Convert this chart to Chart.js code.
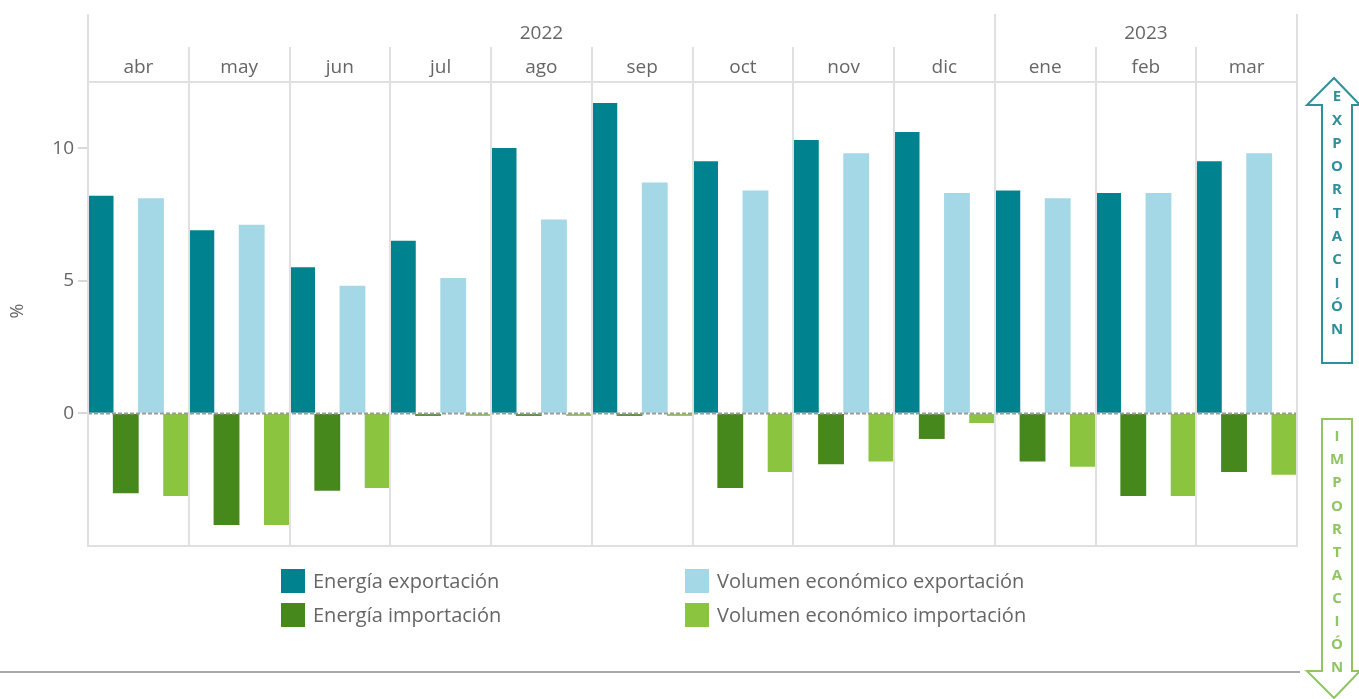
<!DOCTYPE html>
<html lang="es">
<head>
<meta charset="utf-8">
<title>Energía y volumen económico: exportación e importación</title>
<script src="https://cdn.jsdelivr.net/npm/chart.js@4"></script>
<style>
    html, body {
        margin: 0;
        padding: 0;
        background: #ffffff;
        width: 1359px;
        height: 699px;
        overflow: hidden;
        font-family: "Open Sans", sans-serif;
    }
    #wrap {
        position: relative;
        width: 1359px;
        height: 699px;
    }
    #chart {
        position: absolute;
        left: 0;
        top: 0;
    }
    .legend-item {
        position: absolute;
        display: flex;
        align-items: center;
        font-size: 20px;
        color: #666;
        white-space: nowrap;
    }
    .legend-item .swatch {
        width: 24px;
        height: 24px;
        margin-right: 8px;
    }
</style>
</head>
<body>
<div id="wrap">
    <canvas id="chart" width="1359" height="699"></canvas>
    <div id="legend"></div>
</div>
<script>
// Months (apr 2022 - mar 2023) and the year each one belongs to
const months = ['abr', 'may', 'jun', 'jul', 'ago', 'sep', 'oct', 'nov', 'dic', 'ene', 'feb', 'mar'];
const monthYears = ['2022', '2022', '2022', '2022', '2022', '2022', '2022', '2022', '2022', '2023', '2023', '2023'];

// Year-on-year change, %
const energiaExportacion = [8.2, 6.9, 5.5, 6.5, 10.0, 11.7, 9.5, 10.3, 10.6, 8.4, 8.3, 9.5];
const energiaImportacion = [-3.0, -4.2, -2.9, -0.08, -0.08, -0.08, -2.8, -1.9, -0.95, -1.8, -3.1, -2.2];
const volumenExportacion = [8.1, 7.1, 4.8, 5.1, 7.3, 8.7, 8.4, 9.8, 8.3, 8.1, 8.3, 9.8];
const volumenImportacion = [-3.1, -4.2, -2.8, -0.08, -0.08, -0.08, -2.2, -1.8, -0.35, -2.0, -3.1, -2.3];

const yTicks = [0, 5, 10];

const COLORS = {
    energiaExp: '#00838f',
    energiaImp: '#47881d',
    volumenExp: '#a5d8e6',
    volumenImp: '#8bc43f',
    grid: '#e0e0e0',
    text: '#666666',
    arrowExp: '#2f8f9a',
    arrowImp: '#8fc663'
};

const FONT = '"Open Sans", sans-serif';

// Header rows (years + months), frame lines, zero line, axis title and side arrows
const decorations = {
    id: 'decorations',
    afterDatasetsDraw(chart) {
        const ctx = chart.ctx;
        const area = chart.chartArea;
        const x = chart.scales.x;
        const y = chart.scales.y;
        const step = (area.right - area.left) / months.length;
        const yearTop = 14;
        const monthTop = 47;

        ctx.save();

        // dashed zero line over the bars
        const y0 = Math.round(y.getPixelForValue(0)) + 0.5;
        ctx.strokeStyle = '#9a9a9a';
        ctx.lineWidth = 2;
        ctx.setLineDash([4, 2]);
        ctx.beginPath();
        ctx.moveTo(area.left, y0);
        ctx.lineTo(area.right, y0);
        ctx.stroke();
        ctx.setLineDash([]);

        // month separators; year boundaries reach up into the year row
        ctx.strokeStyle = COLORS.grid;
        ctx.lineWidth = 2;
        for (let i = 0; i <= months.length; i++) {
            const px = Math.round(x.getPixelForValue(i) - step / 2);
            const yearEdge = i === 0 || i === months.length || monthYears[i] !== monthYears[i - 1];
            ctx.beginPath();
            ctx.moveTo(px, yearEdge ? yearTop : monthTop);
            ctx.lineTo(px, area.bottom);
            ctx.stroke();
        }

        // header bottom and chart bottom
        ctx.beginPath();
        ctx.moveTo(area.left, area.top);
        ctx.lineTo(area.right, area.top);
        ctx.moveTo(area.left - 1, area.bottom);
        ctx.lineTo(area.right + 1, area.bottom);
        ctx.stroke();

        // month labels
        ctx.fillStyle = COLORS.text;
        ctx.textAlign = 'center';
        ctx.textBaseline = 'middle';
        ctx.font = '19px ' + FONT;
        months.forEach((m, i) => {
            ctx.fillText(m, x.getPixelForValue(i), 68);
        });

        // year labels centred over their months
        const yearSpans = {};
        monthYears.forEach((yr, i) => {
            if (!yearSpans[yr]) yearSpans[yr] = [i, i];
            yearSpans[yr][1] = i;
        });
        Object.keys(yearSpans).forEach(yr => {
            const [a, b] = yearSpans[yr];
            const cx = (x.getPixelForValue(a) + x.getPixelForValue(b)) / 2;
            ctx.fillText(yr, cx, 34);
        });

        // y axis title
        ctx.save();
        ctx.translate(18, 311);
        ctx.rotate(-Math.PI / 2);
        ctx.font = '18px ' + FONT;
        ctx.fillText('%', 0, 0);
        ctx.restore();

        // separator under the chart
        ctx.strokeStyle = '#a8a8a8';
        ctx.lineWidth = 2;
        ctx.beginPath();
        ctx.moveTo(0, 672);
        ctx.lineTo(1300, 672);
        ctx.stroke();

        drawArrow(ctx, 'up', COLORS.arrowExp, 'EXPORTACIÓN', 78, 363, 97, 330);
        drawArrow(ctx, 'down', COLORS.arrowImp, 'IMPORTACIÓN', 419, 698, 437, 668);

        ctx.restore();
    }
};

// Outlined block arrow with the word written letter by letter inside the shaft
function drawArrow(ctx, dir, color, word, top, bottom, first, last) {
    const shaftL = 1322;
    const shaftR = 1352;
    const headL = 1307;
    const headR = 1360;
    const tipX = 1334;
    const headLen = 27;

    ctx.save();
    ctx.strokeStyle = color;
    ctx.lineWidth = 2;
    ctx.lineJoin = 'miter';
    ctx.beginPath();
    if (dir === 'up') {
        ctx.moveTo(tipX, top);
        ctx.lineTo(headR, top + headLen);
        ctx.lineTo(shaftR, top + headLen);
        ctx.lineTo(shaftR, bottom);
        ctx.lineTo(shaftL, bottom);
        ctx.lineTo(shaftL, top + headLen);
        ctx.lineTo(headL, top + headLen);
        ctx.closePath();
    } else {
        ctx.moveTo(shaftL, top);
        ctx.lineTo(shaftR, top);
        ctx.lineTo(shaftR, bottom - headLen);
        ctx.lineTo(headR, bottom - headLen);
        ctx.lineTo(tipX, bottom);
        ctx.lineTo(headL, bottom - headLen);
        ctx.lineTo(shaftL, bottom - headLen);
        ctx.closePath();
    }
    ctx.stroke();

    const letters = Array.from(word);
    const gap = (last - first) / (letters.length - 1);
    ctx.fillStyle = color;
    ctx.font = 'bold 15px ' + FONT;
    ctx.textAlign = 'center';
    ctx.textBaseline = 'middle';
    letters.forEach((ch, i) => {
        ctx.fillText(ch, (shaftL + shaftR) / 2, first + gap * i);
    });
    ctx.restore();
}

function buildLegend() {
    const items = [
        { label: 'Energía exportación', color: COLORS.energiaExp, left: 281, top: 567 },
        { label: 'Volumen económico exportación', color: COLORS.volumenExp, left: 685, top: 567 },
        { label: 'Energía importación', color: COLORS.energiaImp, left: 281, top: 601 },
        { label: 'Volumen económico importación', color: COLORS.volumenImp, left: 685, top: 601 }
    ];
    const legend = document.getElementById('legend');
    items.forEach(it => {
        const el = document.createElement('div');
        el.className = 'legend-item';
        el.style.left = it.left + 'px';
        el.style.top = it.top + 'px';
        el.innerHTML = `<span class="swatch" style="background:${it.color}"></span><span>${it.label}</span>`;
        legend.appendChild(el);
    });
}

function init() {
    const ctx = document.getElementById('chart');

    new Chart(ctx, {
        type: 'bar',
        data: {
            labels: months,
            datasets: [
                { label: 'Energía exportación', data: energiaExportacion, backgroundColor: COLORS.energiaExp },
                { label: 'Energía importación', data: energiaImportacion, backgroundColor: COLORS.energiaImp },
                { label: 'Volumen económico exportación', data: volumenExportacion, backgroundColor: COLORS.volumenExp },
                { label: 'Volumen económico importación', data: volumenImportacion, backgroundColor: COLORS.volumenImp }
            ]
        },
        options: {
            responsive: false,
            animation: false,
            categoryPercentage: 1,
            barPercentage: 1,
            layout: {
                padding: { left: 0, top: 82, right: 62, bottom: 153 }
            },
            plugins: {
                legend: { display: false },
                tooltip: { enabled: false }
            },
            scales: {
                x: {
                    display: false
                },
                y: {
                    min: -5,
                    max: 12.5,
                    afterBuildTicks: scale => {
                        scale.ticks = yTicks.map(v => ({ value: v }));
                    },
                    afterFit: scale => {
                        scale.width = 88;
                    },
                    border: { display: false },
                    grid: {
                        drawOnChartArea: false,
                        color: '#d8d8d8',
                        lineWidth: 2,
                        tickLength: 10
                    },
                    ticks: {
                        color: COLORS.text,
                        padding: 4,
                        font: { family: FONT, size: 19 }
                    }
                }
            }
        },
        plugins: [decorations]
    });

    buildLegend();
}

init();
</script>
</body>
</html>
